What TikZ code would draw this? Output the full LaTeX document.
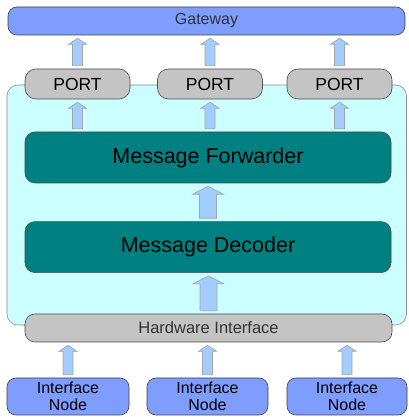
\documentclass[tikz,border=0pt]{standalone}
\usepackage{fontspec}
\setmainfont{Liberation Sans}
\usepackage{tikz}
\usetikzlibrary{calc,positioning}
\definecolor{gwblue}{HTML}{7F9DFF}
\definecolor{portgray}{HTML}{C4C4C4}
\definecolor{coreteal}{HTML}{008080}
\definecolor{boardcyan}{HTML}{CCFFFF}
\definecolor{flowblue}{HTML}{A3CCFF}
\tikzstyle{endpoint} = [rectangle, draw=black!75, fill=gwblue, rounded corners=9pt, text centered, inner sep=0pt, line width=0.6pt]
\tikzstyle{port} = [rectangle, draw=black!70, fill=portgray, rounded corners=11pt, text centered, inner sep=0pt, line width=0.6pt, minimum width=105pt, minimum height=30pt, font=\fontsize{17.5}{19}\selectfont]
\tikzstyle{stage} = [rectangle, draw=black!70, fill=coreteal, rounded corners=10pt, text centered, inner sep=0pt, line width=0.6pt, minimum width=366pt, minimum height=51pt, font=\fontsize{21.5}{24}\selectfont]
\tikzstyle{board} = [rectangle, draw=black!45, fill=boardcyan, rounded corners=11pt, line width=0.6pt]
\tikzstyle{flowarrow} = [draw=black!35, fill=flowblue, line width=0.7pt, line join=miter]
% block arrow: from, to, half shaft, half head, head height
\newcommand{\blockarrow}[5]{%
  \draw[flowarrow] let \p1=(#1), \p2=(#2) in
    (\x1-#3,\y1+3pt) -- (\x1-#3,\y2-3pt-#5) -- (\x1-#4,\y2-3pt-#5) -- (\x1,\y2-3pt)
    -- (\x1+#4,\y2-3pt-#5) -- (\x1+#3,\y2-3pt-#5) -- (\x1+#3,\y1+3pt) -- cycle;}
\begin{document}
\begin{tikzpicture}[x=1pt, y=1pt]
    \useasboundingbox (0,0) rectangle (408,417);
    % cyan board behind the stages
    \draw[board] (7,92) rectangle (406.5,332);
    \node (gateway) [endpoint, minimum width=397pt, minimum height=28pt, font=\fontsize{16}{18}\selectfont, text=black!80] at (206.5,396) {Gateway};
    \node (port-1) [port] at (77.5,333) {PORT};
    \node (port-2) [port] at (210,333) {PORT};
    \node (port-3) [port] at (339.5,333) {PORT};
    \node (forwarder) [stage] at (208,259.5) {Message Forwarder};
    \node (decoder) [stage, below = 38pt of forwarder] {Message Decoder};
    \node (hardware) [port, minimum width=367pt, minimum height=28pt, rounded corners=10pt, font=\fontsize{16.5}{18}\selectfont, text=black!80] at (208.5,89) {Hardware Interface};
    \node (iface-1) [endpoint, align=center, minimum width=122pt, minimum height=37pt, font=\fontsize{16}{17}\selectfont] at (68,20.5) {Interface\\Node};
    \node (iface-2) [endpoint, align=center, minimum width=121pt, minimum height=37pt, font=\fontsize{16}{17}\selectfont] at (207.5,20.5) {Interface\\Node};
    \node (iface-3) [endpoint, align=center, minimum width=120pt, minimum height=37pt, font=\fontsize{16}{17}\selectfont] at (347,20.5) {Interface\\Node};
    \foreach \k in {1,2,3} {
        \blockarrow{port-\k.north}{port-\k.north |- gateway.south}{5pt}{9pt}{6pt}
        \blockarrow{port-\k.south |- forwarder.north}{port-\k.south}{5pt}{9pt}{6pt}
        \blockarrow{iface-\k.north}{iface-\k.north |- hardware.south}{5pt}{9pt}{6pt}
    }
    \blockarrow{decoder.north}{forwarder.south}{8.5pt}{15.5pt}{8pt}
    \blockarrow{hardware.north}{decoder.south}{8.5pt}{15.5pt}{8pt}
\end{tikzpicture}
\end{document}
